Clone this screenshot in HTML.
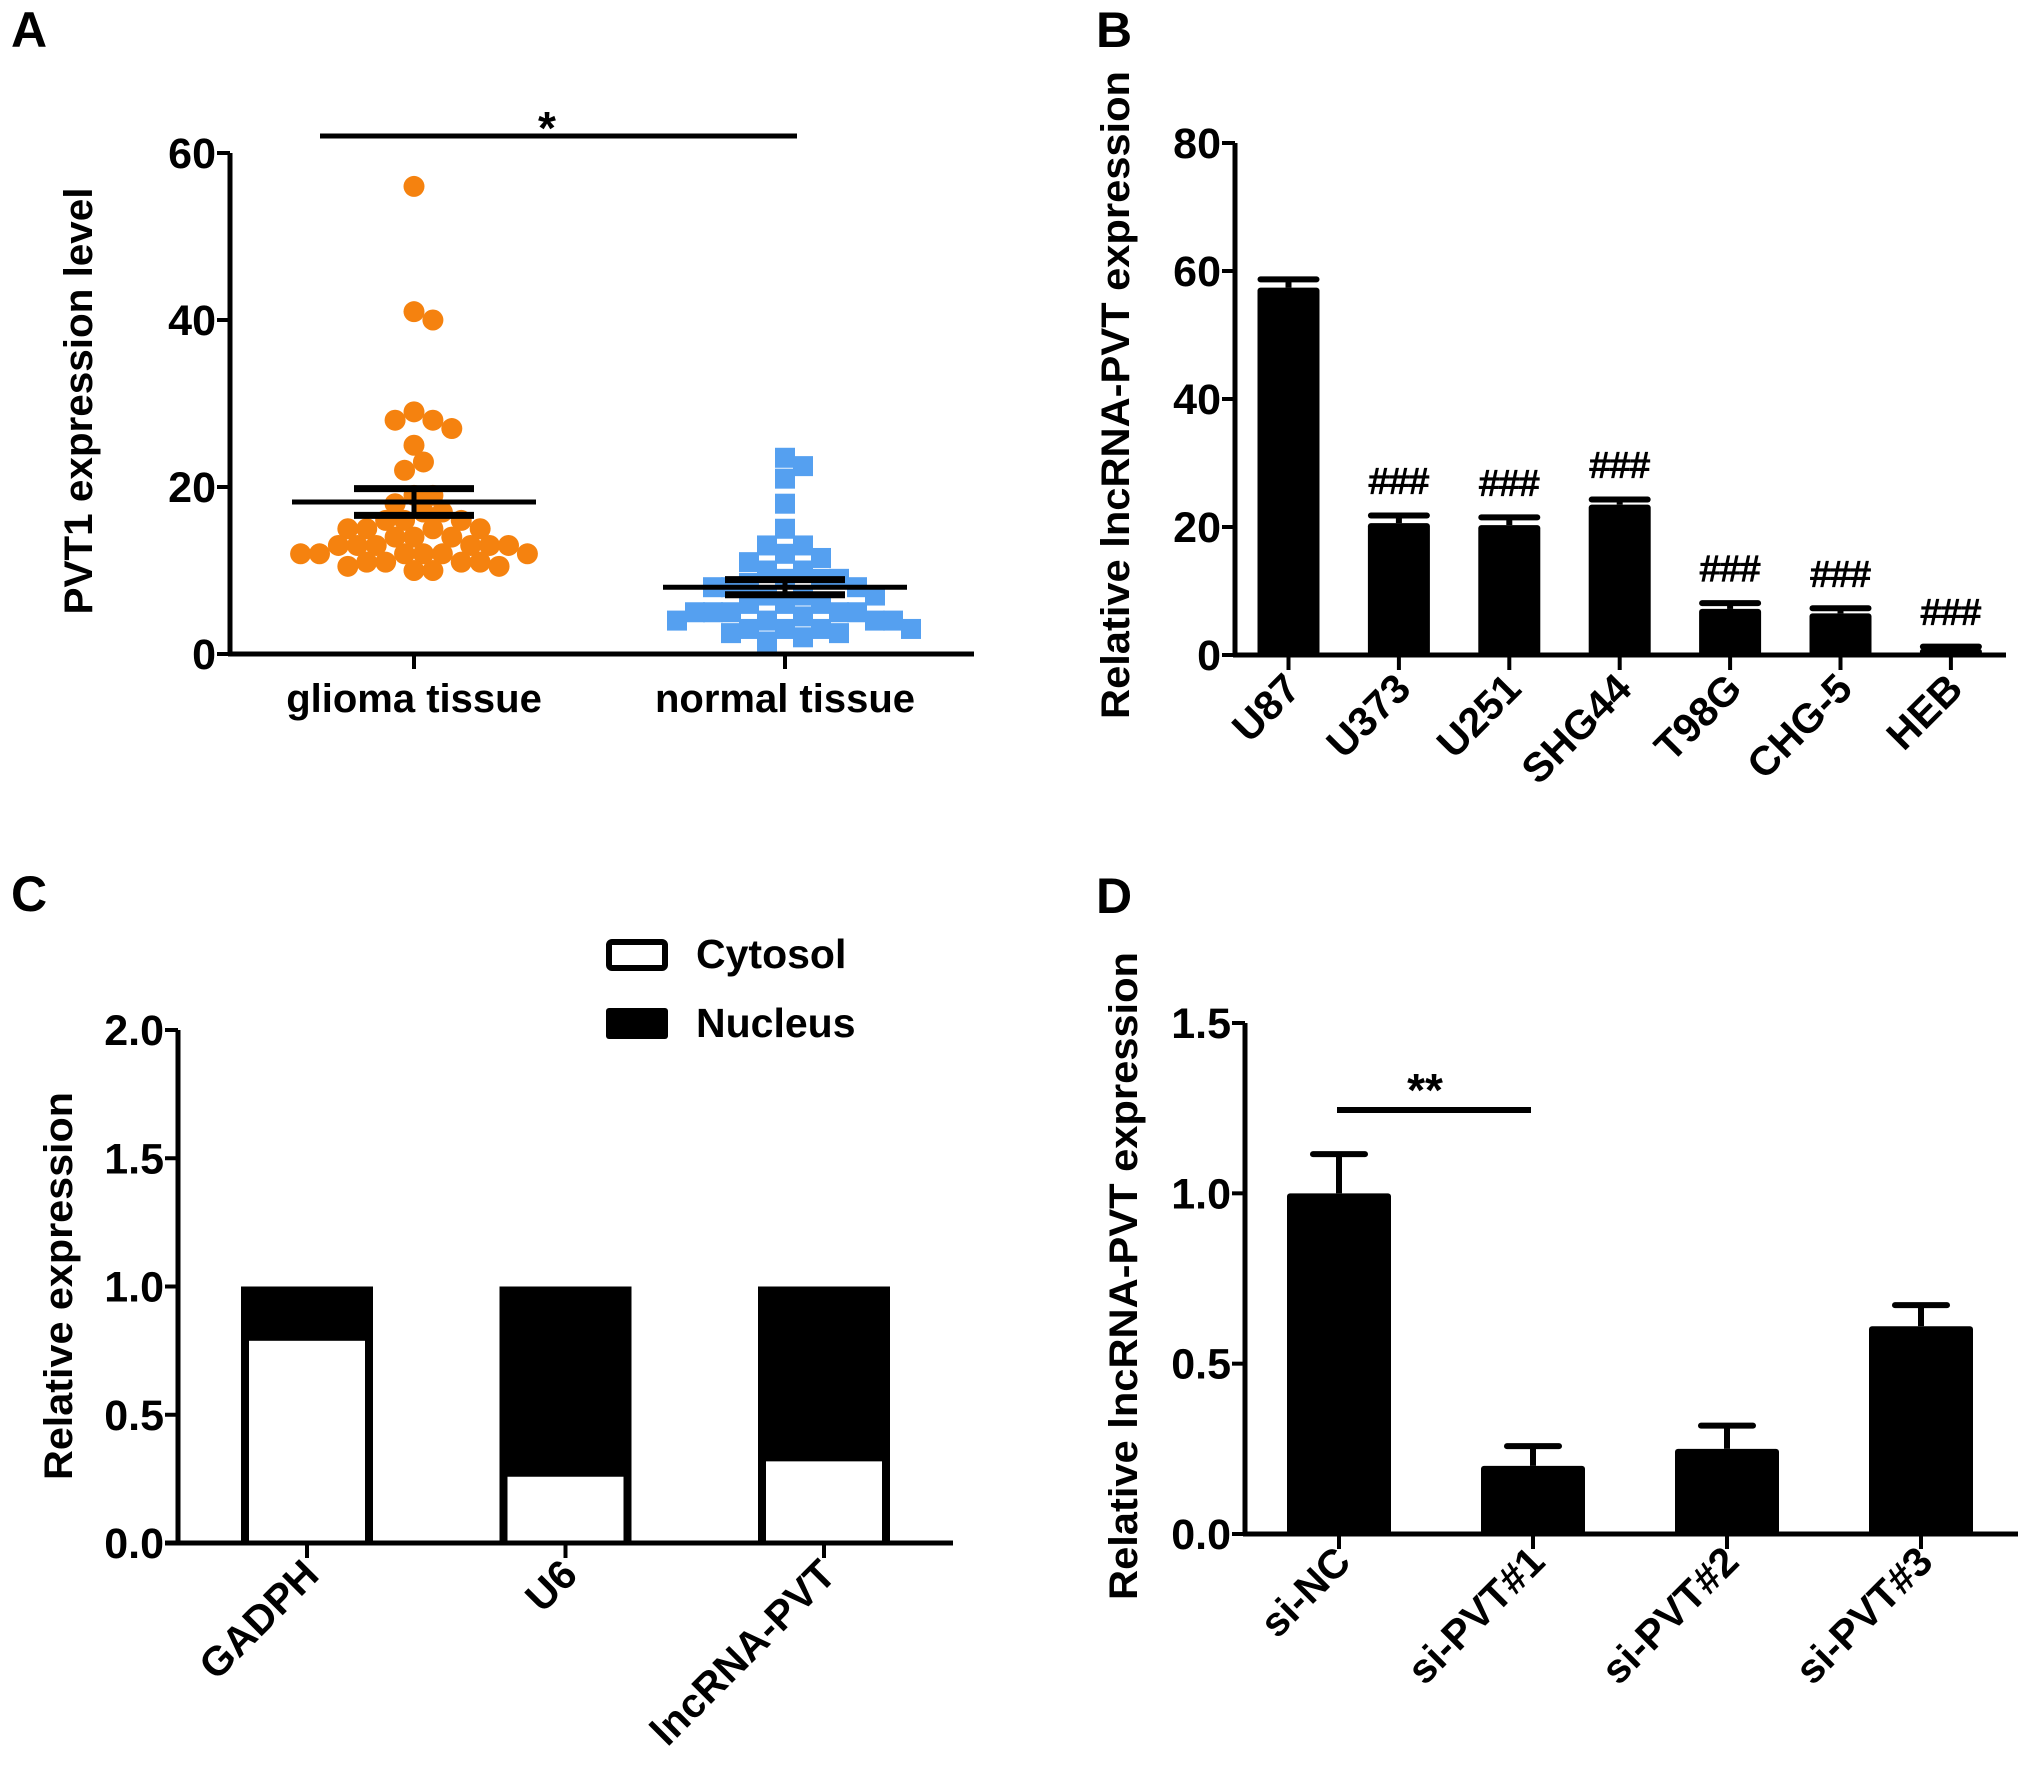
<!DOCTYPE html>
<html><head><meta charset="utf-8">
<style>
html,body{margin:0;padding:0;background:#fff;}
svg{display:block;font-family:"Liberation Sans",Arial,sans-serif;font-weight:bold;}
</style></head>
<body>
<svg id="fig" width="2031" height="1789" viewBox="0 0 2031 1789" xmlns="http://www.w3.org/2000/svg">
<rect x="0" y="0" width="2031" height="1789" fill="#fff"/>
<text x="11" y="47" font-size="50">A</text>
<text x="1096" y="47" font-size="50">B</text>
<text x="11" y="911" font-size="50">C</text>
<text x="1096" y="913" font-size="50">D</text>
<g id="A"></g>
<g id="B"></g>
<g id="C"></g>
<g id="D"></g>
</svg>
<script>
// ---- Panel A data ----
const aCategories = ["glioma tissue", "normal tissue"];
const aGlioma = [56,41,40,29,28,28,27,25,23,22,19,19,18,17,17,16,16,16,15,15,15,15,14,14,14,13,13,13,13,13,13,12,12,12,12,12,12,11,11,11,11,10.5,10.5,10,10];
const aNormal = [23.5,22.5,21,18,15,13,13,12,11.5,11,10,10,9,9,9,8.5,8,8,8,7,7,7,6,6,6,5,5,5,5,5,4.5,4,4,4,4,3,3,3,3,2.5,2.5,2,1.5];
const aMeans = [18.2, 8.0];
const aSems = [1.6, 0.9];
const aTicks = [0, 20, 40, 60];
// ---- Panel B data ----
const bCategories = ["U87","U373","U251","SHG44","T98G","CHG-5","HEB"];
const bValues = [57.4, 20.6, 20.3, 23.5, 7.2, 6.5, 1.0];
const bErrors = [1.3, 1.2, 1.2, 0.8, 0.9, 0.8, 0.3];
const bMarks = ["", "###", "###", "###", "###", "###", "###"];
const bTicks = [0, 20, 40, 60, 80];
// ---- Panel C data ----
const cCategories = ["GADPH","U6","lncRNA-PVT"];
const cCytosol = [0.8, 0.27, 0.33];
const cTotal = [1.0, 1.0, 1.0];
const cTicks = ["0.0","0.5","1.0","1.5","2.0"];
// ---- Panel D data ----
const dCategories = ["si-NC","si-PVT#1","si-PVT#2","si-PVT#3"];
const dValues = [1.0, 0.2, 0.25, 0.61];
const dErrors = [0.115, 0.058, 0.068, 0.062];
const dTicks = ["0.0","0.5","1.0","1.5"];

const NS = "http://www.w3.org/2000/svg";
function mk(parent, tag, attrs, txt){
  const e = document.createElementNS(NS, tag);
  for (const k in attrs) e.setAttribute(k, attrs[k]);
  if (txt !== undefined) e.textContent = txt;
  parent.appendChild(e);
  return e;
}
function axes(g, x0, yTop, yBot, xStart, xEnd, ticks, yScale, cats, xScale, labelFn){
  let e = mk(g, "line", {x1:x0, y1:yTop, x2:x0, y2:yBot, stroke:"#000","stroke-width":5});
  
  
  e = mk(g, "line", {x1:xStart, y1:yBot, x2:xEnd, y2:yBot, stroke:"#000","stroke-width":5});
  
  
  ticks.forEach(t => {
    const y = yScale(parseFloat(t));
    let tk = mk(g, "line", {x1:x0-13, y1:y, x2:x0, y2:y, stroke:"#000","stroke-width":4});
    
    
    let tl = mk(g, "text", {x:x0-14, y:y+15, "font-size":43, "text-anchor":"end"}, String(t));
    
    
  });
  cats.forEach((c, i) => {
    const x = xScale(i);
    let tk = mk(g, "line", {x1:x, y1:yBot, x2:x, y2:yBot+15, stroke:"#000","stroke-width":4});
    
    
    labelFn(c, x);
  });
}
function ytitle(g, x, yc, len, txt){
  const t = mk(g, "text", {x:0, y:0, "font-size":40, "text-anchor":"middle", transform:`translate(${x},${yc}) rotate(-90)`, textLength:len, lengthAdjust:"spacingAndGlyphs"}, txt);
  
  
}
function rotLabel(g, c, x, y){
  const t = mk(g, "text", {x:0, y:0, "font-size":41, "text-anchor":"end", transform:`translate(${x+14},${y}) rotate(-45)`}, c);
  
  
}
function errBar(g, x, yTop, yCap, halfW){
  let e = mk(g, "line", {x1:x, y1:yTop, x2:x, y2:yCap, stroke:"#000","stroke-width":6});
  
  
  e = mk(g, "line", {x1:x-halfW, y1:yCap, x2:x+halfW, y2:yCap, stroke:"#000","stroke-width":6,"stroke-linecap":"round"});
  
  
}

// ===== Panel A =====
(function(){
  const g = document.getElementById("A");
  const x0 = 230, yB = 654, yT = 153;
  const ys = v => yB - (v/60)*(yB-yT);
  const xs = i => 414 + i*371;
  axes(g, x0, yT, yB, x0-2, 974, aTicks, ys, aCategories, xs, (c, x) => {
    const t = mk(g, "text", {x:x, y:712, "font-size":40, "text-anchor":"middle"}, c);
    
    
  });
  ytitle(g, 92, 401, 427, "PVT1 expression level");
  let s = mk(g, "line", {x1:320, y1:136, x2:797, y2:136, stroke:"#000","stroke-width":5});
  
  
  s = mk(g, "text", {x:547, y:144, "font-size":46, "text-anchor":"middle"}, "*");
  
  
  function swarm(vals, cx, size, square){
    const placed = [];
    const minD = size*0.85;
    vals.slice().sort((a,b)=>b-a).forEach(v => {
      const y = ys(v);
      let best = null;
      for (let k = 0; k < 40 && best === null; k++){
        const cands = k === 0 ? [0] : [k*size*0.45, -k*size*0.45];
        for (const o of cands){
          const ok = placed.every(p => square
            ? Math.max(Math.abs(p.x-(cx+o)), Math.abs(p.y-y)) >= minD
            : Math.hypot(p.x-(cx+o), p.y-y) >= minD);
          if (ok){ best = cx+o; break; }
        }
      }
      if (best === null) best = cx;
      placed.push({x:best, y:y});
    });
    return placed;
  }
  swarm(aGlioma, xs(0), 21, false).forEach(p => {
    const c = mk(g, "circle", {cx:p.x, cy:p.y, r:10.5, fill:"#F5820F"});
    
    
  });
  swarm(aNormal, xs(1), 20, true).forEach(p => {
    const c = mk(g, "rect", {x:p.x-10, y:p.y-10, width:20, height:20, fill:"#55A0F0"});
    
    
  });
  aMeans.forEach((m, i) => {
    const x = xs(i);
    let e = mk(g, "line", {x1:x-122, y1:ys(m), x2:x+122, y2:ys(m), stroke:"#000","stroke-width":5});
    
    
    e = mk(g, "line", {x1:x, y1:ys(m-aSems[i]), x2:x, y2:ys(m+aSems[i]), stroke:"#000","stroke-width":5});
    
    
    [m-aSems[i], m+aSems[i]].forEach(v => {
      const c = mk(g, "line", {x1:x-60, y1:ys(v), x2:x+60, y2:ys(v), stroke:"#000","stroke-width":7});
      
      
    });
  });
})();

// ===== Panel B =====
(function(){
  const g = document.getElementById("B");
  const x0 = 1235, yB = 655, yT = 143;
  const ys = v => yB - (v/80)*(yB-yT);
  const xs = i => 1288.5 + i*110.4;
  bValues.forEach((v, i) => {
    const x = xs(i);
    errBar(g, x, ys(v), ys(v+bErrors[i]), 28);
    const r = mk(g, "rect", {x:x-31, y:ys(v), width:62, height:yB-ys(v), fill:"#000", rx:3});
    
    
    if (bMarks[i]){
      const t = mk(g, "text", {x:x, y:ys(v+bErrors[i])-22, "font-size":36, "font-weight":"normal", "text-anchor":"middle", "stroke":"#000", "stroke-width":1.2}, bMarks[i]);
      
      
    }
  });
  axes(g, x0, yT, yB, x0-2, 2006, bTicks, ys, bCategories, xs, (c, x) => rotLabel(g, c, x, yB+36));
  ytitle(g, 1129, 395, 648, "Relative lncRNA-PVT expression");
})();

// ===== Panel C =====
(function(){
  const g = document.getElementById("C");
  const x0 = 178, yB = 1543, yT = 1030;
  const ys = v => yB - (v/2)*(yB-yT);
  const xs = i => 307 + i*258.5;
  cCategories.forEach((c, i) => {
    const x = xs(i);
    let r = mk(g, "rect", {x:x-66, y:ys(cTotal[i]), width:132, height:yB-ys(cTotal[i]), fill:"#000"});
    
    
    r = mk(g, "rect", {x:x-58, y:ys(cCytosol[i])+3, width:116, height:yB-ys(cCytosol[i])-3, fill:"#fff"});
    
    
  });
  axes(g, x0, yT, yB, 165, 953, cTicks, ys, cCategories, xs, (c, x) => rotLabel(g, c, x, yB+34));
  ytitle(g, 72, 1286, 388, "Relative expression");
  let e = mk(g, "rect", {x:609, y:942, width:56, height:26, fill:"#fff", stroke:"#000", "stroke-width":6, rx:3});
  
  
  e = mk(g, "text", {x:696, y:968, "font-size":41}, "Cytosol");
  
  
  e = mk(g, "rect", {x:606, y:1008, width:62, height:31, fill:"#000", rx:3});
  
  
  e = mk(g, "text", {x:696, y:1037, "font-size":41}, "Nucleus");
  
  
})();

// ===== Panel D =====
(function(){
  const g = document.getElementById("D");
  const x0 = 1245, yB = 1534, yT = 1023;
  const ys = v => yB - (v/1.5)*(yB-yT);
  const xs = i => 1339 + i*194;
  dValues.forEach((v, i) => {
    const x = xs(i);
    errBar(g, x, ys(v), ys(v+dErrors[i]), 26);
    const r = mk(g, "rect", {x:x-52, y:ys(v), width:104, height:yB-ys(v), fill:"#000", rx:3});
    
    
  });
  axes(g, x0, yT, yB, x0-2, 2018, dTicks, ys, dCategories, xs, (c, x) => rotLabel(g, c, x, yB+30));
  ytitle(g, 1137, 1276, 648, "Relative lncRNA-PVT expression");
  let s = mk(g, "line", {x1:1337, y1:1110, x2:1531, y2:1110, stroke:"#000","stroke-width":6});
  
  
  s = mk(g, "text", {x:1425, y:1106, "font-size":46, "text-anchor":"middle"}, "**");
  
  
})();
</script>
</body></html>
